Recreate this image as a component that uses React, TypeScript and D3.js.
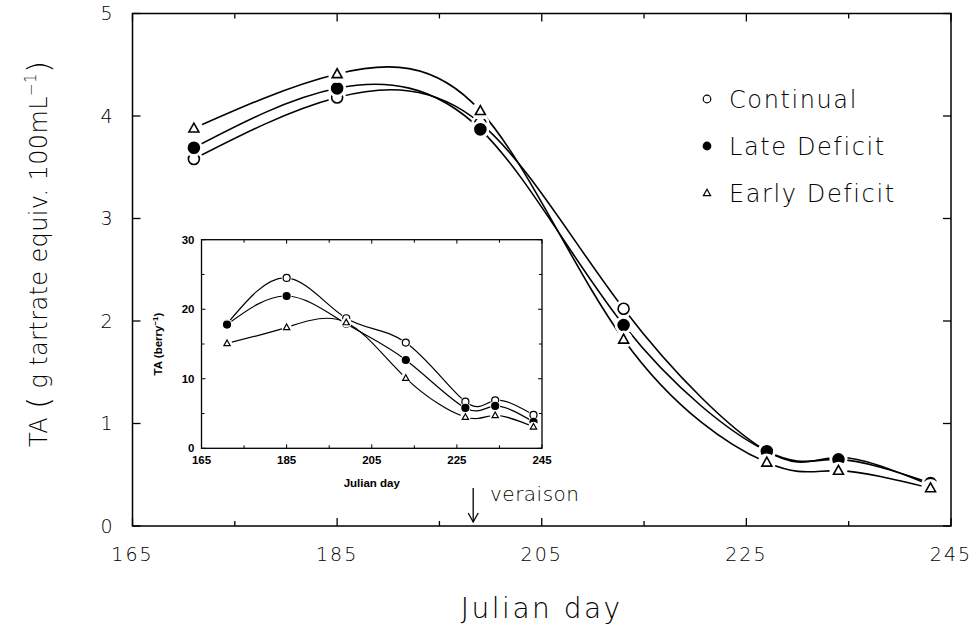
import React from "react";
import * as d3 from "d3";

const days = [171, 185, 199, 213, 227, 234, 243];
const continualTA = [3.58, 4.18, 3.93, 2.12, 0.73, 0.67, 0.40];
const lateTA = [3.69, 4.27, 3.87, 1.96, 0.73, 0.65, 0.42];
const earlyTA = [3.88, 4.41, 4.05, 1.82, 0.62, 0.54, 0.37];

const continualBerry = [17.9, 24.5, 18.7, 15.2, 6.7, 6.9, 4.8];
const lateBerry = [17.8, 21.9, 17.9, 12.7, 5.8, 6.1, 3.8];
const earlyBerry = [15.1, 17.4, 18.1, 10.1, 4.5, 4.75, 3.1];

const seriesNames = ["Continual", "Late Deficit", "Early Deficit"];
const seriesShapes = ["open", "filled", "triangle"];

const xTicks = [165, 185, 205, 225, 245];
const yTicks = [0, 1, 2, 3, 4, 5];
const insetYTicks = [0, 10, 20, 30];
const veraisonDay = 198.3;

const MAIN_FONT = "'DejaVu Sans', sans-serif";
const INSET_FONT = "'Liberation Sans', Arial, sans-serif";

function Marker({ shape, x, y, size, halo }: { shape: string; x: number; y: number; size: number; halo: number }) {
  const els: any[] = [];
  if (halo > 0) {
    els.push(<circle key="h" cx={x} cy={y} r={size + halo} fill="white" />);
  }
  if (shape === "triangle") {
    const s = size * 0.95;
    const p = `M${x},${y - s} L${x + s * 0.95},${y + s * 0.7} L${x - s * 0.95},${y + s * 0.7} Z`;
    els.push(<path key="m" d={p} fill="white" stroke="black" strokeWidth={size > 4 ? 1.6 : 1.2} />);
  } else {
    els.push(
      <circle
        key="m"
        cx={x}
        cy={y}
        r={size}
        fill={shape === "filled" ? "black" : "white"}
        stroke="black"
        strokeWidth={size > 4 ? 1.6 : 1.2}
      />
    );
  }
  return <g>{els}</g>;
}

export default function App() {
  const W = 971;
  const H = 630;
  const x = d3.scaleLinear().domain([165, 245]).range([132.5, 951]);
  const y = d3.scaleLinear().domain([0, 5]).range([526, 13.5]);
  const xi = d3.scaleLinear().domain([165, 245]).range([201.5, 542]);
  const yi = d3.scaleLinear().domain([0, 30]).range([448.3, 239.7]);

  const mainSeries = [continualTA, lateTA, earlyTA];
  const insetSeries = [continualBerry, lateBerry, earlyBerry];

  const line = d3
    .line<number>()
    .x((_, i) => x(days[i]))
    .y((d) => y(d))
    .curve(d3.curveNatural);
  const lineI = d3
    .line<number>()
    .x((_, i) => xi(days[i]))
    .y((d) => yi(d))
    .curve(d3.curveNatural);

  const [x0, x1] = x.range();
  const [y0, y1] = y.range();
  const [xi0, xi1] = xi.range();
  const [yi0, yi1] = yi.range();

  const mainXMinor = d3.range(165, 246, 10);
  const insetXMinor = d3.range(165, 246, 10);
  const insetYMinor = d3.range(0, 31, 5);

  return (
    <svg width={W} height={H} style={{ position: "absolute", left: 0, top: 0, background: "white" }}>
      <rect width={W} height={H} fill="white" />
      <rect x={x0} y={y1} width={x1 - x0} height={y0 - y1} fill="none" stroke="black" strokeWidth={1.5} />
      {mainXMinor.map((t) => {
        const major = (t - 165) % 20 === 0;
        const len = major ? 8 : 5;
        return (
          <g key={"mx" + t}>
            <line x1={x(t)} x2={x(t)} y1={y0} y2={y0 - len} stroke="black" strokeWidth={1.3} />
            <line x1={x(t)} x2={x(t)} y1={y1} y2={y1 + len} stroke="black" strokeWidth={1.3} />
          </g>
        );
      })}
      {yTicks.map((t) => (
        <g key={"my" + t}>
          <line x1={x0} x2={x0 + 8} y1={y(t)} y2={y(t)} stroke="black" strokeWidth={1.3} />
          <line x1={x1} x2={x1 - 8} y1={y(t)} y2={y(t)} stroke="black" strokeWidth={1.3} />
          <text x={x0 - 20} y={y(t)} dy="0.36em" textAnchor="end" fontFamily={MAIN_FONT} fontWeight={200} fontSize={19}>
            {t}
          </text>
        </g>
      ))}
      {xTicks.map((t) => (
        <text key={"xl" + t} x={x(t)} y={y0 + 35} textAnchor="middle" fontFamily={MAIN_FONT} fontWeight={200} fontSize={19} letterSpacing={2}>
          {t}
        </text>
      ))}
      <text x={(x0 + x1) / 2} y={618} textAnchor="middle" fontFamily={MAIN_FONT} fontWeight={200} fontSize={28} letterSpacing={2.5}>
        Julian day
      </text>
      <text
        transform={`translate(47,447) rotate(-90)`}
        textAnchor="start"
        fontFamily={MAIN_FONT}
        fontWeight={200}
        fontSize={24}
        textLength={386}
        lengthAdjust="spacing"
      >
        <tspan>TA </tspan>
        <tspan fontSize={31} dy="2">(</tspan>
        <tspan dy="-2"> g tartrate equiv.  100mL</tspan>
        <tspan fontSize={15} dy="-11">−1</tspan>
        <tspan fontSize={31} dy="13">)</tspan>
      </text>

      {mainSeries.map((s, k) => (
        <path key={"ml" + k} d={line(s) || ""} fill="none" stroke="black" strokeWidth={1.6} />
      ))}
      {mainSeries.map((s, k) =>
        s.map((v, i) => (
          <Marker key={`mm${k}-${i}`} shape={seriesShapes[k]} x={x(days[i])} y={y(v)} size={5.5} halo={3.5} />
        ))
      )}

      {seriesNames.map((n, k) => (
        <g key={"lg" + k}>
          <Marker shape={seriesShapes[k]} x={707} y={99 + k * 47} size={k === 2 ? 4 : 3.8} halo={0} />
          <text x={729} y={99 + k * 47} dy="0.36em" fontFamily={MAIN_FONT} fontWeight={200} fontSize={24} letterSpacing={1.6}>
            {n}
          </text>
        </g>
      ))}

      <line x1={x(veraisonDay)} x2={x(veraisonDay)} y1={488} y2={522} stroke="black" strokeWidth={1.3} />
      <path
        d={`M${x(veraisonDay) - 5},${513} L${x(veraisonDay)},${522} L${x(veraisonDay) + 5},${513}`}
        fill="none"
        stroke="black"
        strokeWidth={1.3}
      />
      <text x={490} y={501} fontFamily={MAIN_FONT} fontWeight={200} fontSize={20} letterSpacing={0.5}>
        veraison
      </text>

      <rect x={xi0} y={yi1} width={xi1 - xi0} height={yi0 - yi1} fill="white" stroke="black" strokeWidth={1.3} />
      {insetXMinor.map((t) => {
        const major = (t - 165) % 20 === 0;
        const len = major ? 4 : 3;
        return (
          <g key={"ix" + t}>
            <line x1={xi(t)} x2={xi(t)} y1={yi0} y2={yi0 - len} stroke="black" strokeWidth={1} />
            <line x1={xi(t)} x2={xi(t)} y1={yi1} y2={yi1 + len} stroke="black" strokeWidth={1} />
          </g>
        );
      })}
      {insetYMinor.map((t) => {
        const major = t % 10 === 0;
        const len = major ? 4 : 3;
        return (
          <g key={"iy" + t}>
            <line x1={xi0} x2={xi0 + len} y1={yi(t)} y2={yi(t)} stroke="black" strokeWidth={1} />
            <line x1={xi1} x2={xi1 - len} y1={yi(t)} y2={yi(t)} stroke="black" strokeWidth={1} />
          </g>
        );
      })}
      {insetYTicks.map((t) => (
        <text key={"iyl" + t} x={xi0 - 7} y={yi(t)} dy="0.36em" textAnchor="end" fontFamily={INSET_FONT} fontWeight={700} fontSize={11.5}>
          {t}
        </text>
      ))}
      {xTicks.map((t) => (
        <text key={"ixl" + t} x={xi(t)} y={yi0 + 16} textAnchor="middle" fontFamily={INSET_FONT} fontWeight={700} fontSize={11.5}>
          {t}
        </text>
      ))}
      <text x={(xi0 + xi1) / 2} y={487} textAnchor="middle" fontFamily={INSET_FONT} fontWeight={700} fontSize={11.5}>
        Julian day
      </text>
      <text
        transform={`translate(162,${(yi0 + yi1) / 2}) rotate(-90)`}
        textAnchor="middle"
        fontFamily={INSET_FONT}
        fontWeight={700}
        fontSize={11.5}
      >
        <tspan>TA (berry</tspan>
        <tspan fontSize={8} dy="-4">−1</tspan>
        <tspan dy="4">)</tspan>
      </text>
      {insetSeries.map((s, k) => (
        <path key={"il" + k} d={lineI(s) || ""} fill="none" stroke="black" strokeWidth={1.2} />
      ))}
      {insetSeries.map((s, k) =>
        s.map((v, i) => (
          <Marker key={`im${k}-${i}`} shape={seriesShapes[k]} x={xi(days[i])} y={yi(v)} size={3.5} halo={1.5} />
        ))
      )}
    </svg>
  );
}
